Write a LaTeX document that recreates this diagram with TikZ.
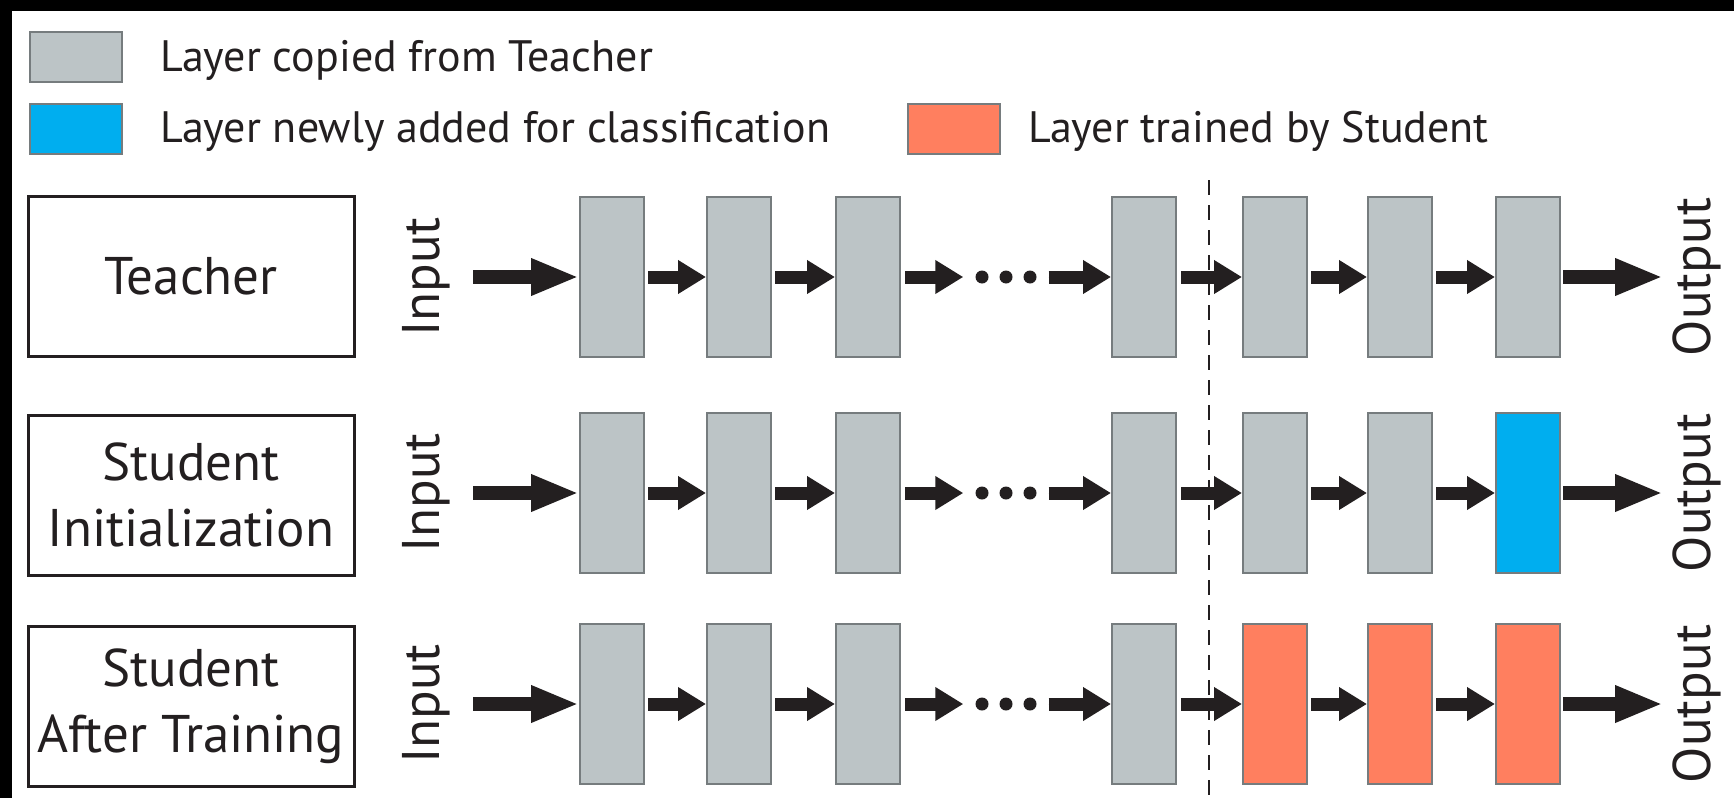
\documentclass[tikz,border=0pt]{standalone}
\usepackage{fontspec}
\setmainfont{PT Sans}
\usetikzlibrary{arrows.meta}

\definecolor{layergray}{RGB}{188,196,198}
\definecolor{layeredge}{RGB}{118,124,126}
\definecolor{newblue}{RGB}{0,174,239}
\definecolor{trainorange}{RGB}{255,127,95}
\definecolor{ink}{RGB}{35,31,32}

\newcommand{\legfont}{\fontsize{44}{50}\selectfont}
\newcommand{\labfont}{\fontsize{53}{66}\selectfont}

\begin{document}
\begin{tikzpicture}[x=1pt,y=-1pt,
  layer/.style={draw=layeredge, line width=2pt, minimum width=64pt,
    minimum height=160pt, inner sep=0pt},
  legbox/.style={draw=layeredge, line width=2.5pt, minimum width=92pt,
    minimum height=50pt, inner sep=0pt},
  labelbox/.style={draw=ink, line width=3pt, minimum width=326pt,
    minimum height=160pt, inner sep=0pt, align=center, font=\labfont, text=ink},
  legtext/.style={anchor=west, inner sep=0pt, font=\legfont, text=ink},
  iolabel/.style={rotate=90, inner sep=0pt, font=\labfont, text=ink},
  bigarrow/.style={draw=ink, fill=ink, line width=13.5pt,
    -{Triangle[length=48pt,width=34pt]}},
  smallarrow/.style={draw=ink, fill=ink, line width=13pt,
    -{Triangle[length=28pt,width=32pt]}},
  dot/.style={circle, fill=ink, minimum size=13pt, inner sep=0pt},
  cutline/.style={draw=ink, line width=2.5pt, dash pattern=on 15pt off 10pt}]

% canvas with dark frame on top and left
\useasboundingbox (0,0) rectangle (1734,798);
\fill[black] (0,0) rectangle (1734,798);
\fill[white] (12,11) rectangle (1734,798);

% legend
\node[legbox, fill=layergray] (lgray) at (76,57) {};
\node[legtext] (lgraytext) at (160,60) {Layer copied from Teacher};
\node[legbox, fill=newblue] (lblue) at (76,129) {};
\node[legtext] (lbluetext) at (160,131) {Layer newly added for classification};
\node[legbox, fill=trainorange] (lorange) at (954,129) {};
\node[legtext] (lorangetext) at (1028,131) {Layer trained by Student};

% boundary between copied layers and the upper layers
\coordinate (cuttop) at (1209,180);
\coordinate (cutbot) at (1209,798);

% three rows: name / vertical centre / fill of the last three layers
\foreach \r/\y/\fa/\fb/\fc in {t/277/layergray/layergray/layergray,
                               s/493/layergray/layergray/newblue,
                               a/704/trainorange/trainorange/trainorange}{
  \node[layer, fill=layergray] (\r1) at (612,\y) {};
  \node[layer, fill=layergray] (\r2) at (739,\y) {};
  \node[layer, fill=layergray] (\r3) at (868,\y) {};
  \node[layer, fill=layergray] (\r4) at (1144,\y) {};
  \node[layer, fill=\fa] (\r5) at (1275,\y) {};
  \node[layer, fill=\fb] (\r6) at (1400,\y) {};
  \node[layer, fill=\fc] (\r7) at (1528,\y) {};

  \node[dot] (\r d1) at (982,\y) {};
  \node[dot] (\r d2) at (1006,\y) {};
  \node[dot] (\r d3) at (1030,\y) {};

  \node[iolabel] (\r in) at (426,\y) {Input};
  \node[iolabel] (\r out) at (1697,\y) {Output};
  \coordinate (\r src) at (473,\y);
  \coordinate (\r dst) at (1663,\y);

  \draw[bigarrow] (\r src) -- (\r1.west);
  \draw[smallarrow] ([xshift=3pt]\r1.east) -- (\r2.west);
  \draw[smallarrow] ([xshift=3pt]\r2.east) -- (\r3.west);
  \draw[smallarrow] ([xshift=4pt]\r3.east) -- ([xshift=-12pt]\r d1.west);
  \draw[smallarrow] ([xshift=12pt]\r d3.east) -- (\r4.west);
  \draw[smallarrow] ([xshift=4pt]\r4.east) -- (\r5.west);
  \draw[smallarrow] ([xshift=3pt]\r5.east) -- (\r6.west);
  \draw[smallarrow] ([xshift=3pt]\r6.east) -- (\r7.west);
  \draw[bigarrow] ([xshift=2pt]\r7.east) -- (\r dst);
}

% row titles
\node[labelbox] (tlab) at (191,276) {Teacher};
\node[labelbox] (slab) at (191,495) {Student\\Initialization};
\node[labelbox] (alab) at (191,706) {Student\\After Training};

\draw[cutline] (cuttop) -- (cutbot);
\end{tikzpicture}
\end{document}
